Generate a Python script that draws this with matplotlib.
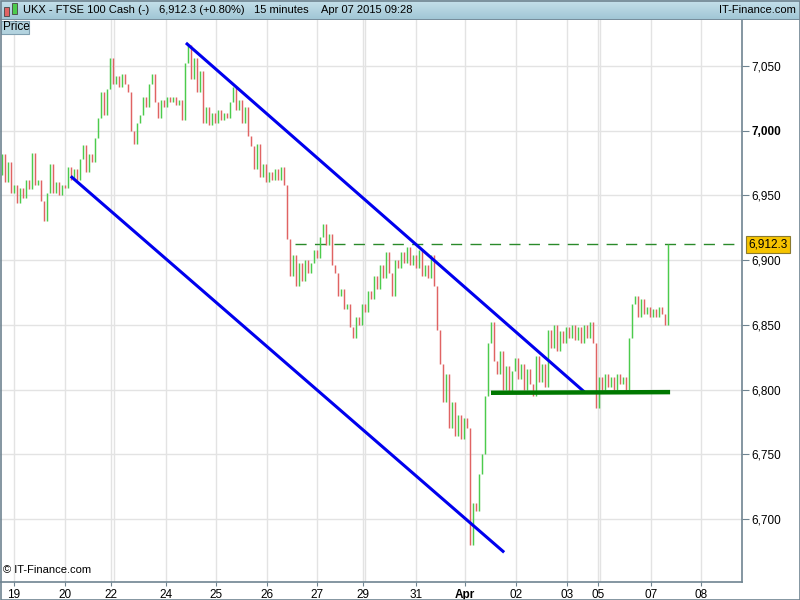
import matplotlib
matplotlib.use("Agg")
import matplotlib.pyplot as plt
import numpy as np
from matplotlib.patches import Rectangle

plt.rcParams['font.family'] = ['Liberation Sans', 'DejaVu Sans']

# FTSE 100 cash, 15 minute closes (one bar every 3 px of the reference)
first_open = 6966
closes = [
    # Mar 19 - 20
    6982, 6960, 6976, 6952, 6958, 6944, 6956, 6948, 6962, 6955, 6983, 6958,
    6962, 6946, 6930, 6952, 6974, 6952, 6960, 6950, 6958, 6956, 6972, 6962,
    6970, 6962, 6978, 6989, 6968, 6982, 6976, 6994, 7010,
    # Mar 22 - 24
    7030, 7012, 7032, 7056, 7036, 7042, 7034, 7044, 7036, 7030, 7000, 6990,
    7006, 7012, 7026, 7018, 7036, 7044, 7022, 7010, 7024, 7018, 7026, 7022,
    7026, 7020, 7024, 7008, 7052,
    # Mar 24 - 26
    7066, 7040, 7056, 7030, 7046, 7006, 7018, 7004, 7014, 7006, 7016, 7008,
    7014, 7010, 7022, 7034, 7016, 7024, 7006, 7018, 6996, 6988, 6970, 6990,
    6964, 6974, 6960, 6968, 6962, 6970, 6962, 6972, 6958,
    # Mar 26 - 31
    6916, 6888, 6904, 6880, 6898, 6884, 6900, 6890, 6898, 6908, 6902, 6918,
    6928, 6912, 6920, 6896, 6890, 6872, 6878, 6862, 6866, 6848, 6840, 6856,
    6850, 6866, 6860, 6876, 6870, 6888, 6878, 6896, 6886, 6906, 6890, 6872,
    6900, 6894, 6906, 6898, 6910, 6896, 6904, 6894, 6908, 6888, 6896, 6886,
    6904, 6880, 6846,
    # Apr 01 - 07
    6820, 6790, 6812, 6770, 6790, 6764, 6780, 6762, 6778, 6770, 6680, 6712,
    6706, 6735, 6750, 6795, 6836, 6852, 6822, 6812, 6830, 6800, 6818, 6798,
    6814, 6824, 6808, 6820, 6800, 6816, 6804, 6795, 6826, 6806, 6820, 6802,
    6846, 6832, 6850, 6830, 6845, 6836, 6848, 6840, 6850, 6838, 6848, 6836,
    6850, 6840, 6852, 6836, 6786, 6810, 6800, 6812, 6802, 6810, 6800, 6812,
    6804, 6810, 6800, 6840, 6866, 6872, 6856, 6870, 6858, 6864, 6856, 6862,
    6856, 6864, 6858, 6850, 6912.3,
]

# date axis (bar index positions of the day labels)
day_labels = ["19", "20", "22", "24", "25", "26", "27", "29", "31", "Apr",
              "02", "03", "05", "07", "08"]
day_pos = [4, 21, 36.4, 54.7, 71.3, 88.3, 105, 120.3, 138, 154.3,
           171.3, 188.3, 198.7, 216.3, 233]
extra_grid = [37.3, 121.0, 199.2]

price_ticks = [6700, 6750, 6800, 6850, 6900, 6950, 7000, 7050]
last_price = 6912.3

# drawn trend lines: (bar index, price)
upper_channel = [(61.7, 7067), (193.7, 6799)]
lower_channel = [(23.3, 6964), (167.0, 6675)]
support = [(163.0, 6797.5), (222.7, 6798.0)]
dashed_start = 97.7

fig = plt.figure(figsize=(8, 6), dpi=100)
fig.patch.set_facecolor("white")
ax = fig.add_axes([0, 18 / 600, 742 / 800, 562 / 600])
ax.set_facecolor("white")

idx = np.arange(len(closes))
c = np.array(closes)
o = np.concatenate([[first_open], c[:-1]])
lo = np.minimum(o, c)
hi = np.maximum(o, c)
hi = np.where(hi - lo < 0.6, lo + 0.6, hi)
cols = np.where(c >= o, "#4ccb4c", "#e06363")
ax.vlines(idx, lo, hi, colors=cols, linewidth=1.05, zorder=3)

ax.set_xlim(-0.67, 246.67)
ax.set_ylim(6651.3, 7085.5)

# grid
for p in price_ticks:
    ax.axhline(p, color="#e3e3e3", linewidth=1, zorder=0)
for p in day_pos + extra_grid:
    ax.axvline(p, color="#e3e3e3", linewidth=1, zorder=0)

# trend lines
(x1, y1), (x2, y2) = upper_channel
ax.plot([x1, x2], [y1, y2], color="#0000ee", linewidth=2.2, zorder=4)
(x1, y1), (x2, y2) = lower_channel
ax.plot([x1, x2], [y1, y2], color="#0000ee", linewidth=2.2, zorder=4)
(x1, y1), (x2, y2) = support
ax.plot([x1, x2], [y1, y2], color="#007800", linewidth=3.2, zorder=4,
        solid_capstyle="butt")
ax.plot([dashed_start, 246.67], [last_price, last_price], color="#2a8a2a",
        linewidth=1.0, dashes=(8, 6), zorder=2)

# axes styling
for s in ["left", "top"]:
    ax.spines[s].set_visible(False)
for s in ["right", "bottom"]:
    ax.spines[s].set_color("#6f8491")
    ax.spines[s].set_linewidth(1.2)
ax.yaxis.tick_right()
ax.set_yticks(price_ticks)
ax.set_yticklabels([f"{p:,}" for p in price_ticks])
ax.tick_params(axis="y", direction="out", length=5, width=0.8, color="#6f8491",
               labelsize=8.5, pad=2)
for lbl in ax.get_yticklabels():
    if lbl.get_text() == "7,000":
        lbl.set_fontweight("bold")
ax.set_xticks(day_pos)
ax.set_xticklabels(day_labels)
ax.tick_params(axis="x", direction="out", length=3, width=0.8, color="#6f8491",
               labelsize=8.5, pad=2)
for lbl in ax.get_xticklabels():
    if lbl.get_text() == "Apr":
        lbl.set_fontweight("bold")

# last price tag
ax.text(1.008, (last_price - 6651.3) / (7085.5 - 6651.3), f"{last_price:,.1f}",
        transform=ax.transAxes, ha="left", va="center", fontsize=8.5,
        bbox=dict(boxstyle="square,pad=0.2", facecolor="#f6c400",
                  edgecolor="#8a7a30", linewidth=0.8), zorder=6, clip_on=False)

ax.text(0.004, 0.012, "© IT-Finance.com", transform=ax.transAxes,
        fontsize=8, ha="left", va="bottom")

# header bar
hax = fig.add_axes([0, 580 / 600, 1, 20 / 600])
grad = np.linspace(0, 1, 50).reshape(-1, 1)
hax.imshow(grad, aspect="auto", extent=[0, 1, 0, 1],
           cmap=matplotlib.colors.LinearSegmentedColormap.from_list(
               "hdr", ["#c6e1eb", "#9fc5d4"]))
hax.set_xlim(0, 1)
hax.set_ylim(0, 1)
hax.axis("off")
hax.axhline(0.02, color="#6f8491", linewidth=1.2)
header = [(23, "UKX - FTSE 100 Cash (-)"), (159, "6,912.3 (+0.80%)"),
          (254, "15 minutes"), (321, "Apr 07 2015 09:28")]
for hx, txt in header:
    hax.text(hx / 800, 0.5, txt, ha="left", va="center", fontsize=8.0,
             transform=hax.transAxes)
hax.text(0.995, 0.5, "IT-Finance.com", ha="right", va="center", fontsize=8.0,
         transform=hax.transAxes)
# small candle icon
hax.add_patch(Rectangle((4 / 800, 0.2), 5 / 800, 0.45, facecolor="#e06363",
                        edgecolor="#444", linewidth=0.6))
hax.add_patch(Rectangle((12 / 800, 0.3), 5 / 800, 0.55, facecolor="#4ccb4c",
                        edgecolor="#444", linewidth=0.6))

# "Price" tab
fig.patches.append(Rectangle((1 / 800, 566 / 600), 28 / 800, 13 / 600,
                             transform=fig.transFigure, facecolor="#b3d3df",
                             edgecolor="#7f9fb0", linewidth=0.8, zorder=5))
fig.text(3 / 800, 572.5 / 600, "Price", fontsize=8.5, va="center", ha="left",
         zorder=6)

# outer frame
fig.patches.append(Rectangle((0.5 / 800, 0.5 / 600), 799 / 800, 599 / 600,
                             transform=fig.transFigure, fill=False,
                             edgecolor="#6f8491", linewidth=1.2, zorder=10))

fig.savefig("out.png", dpi=100)
